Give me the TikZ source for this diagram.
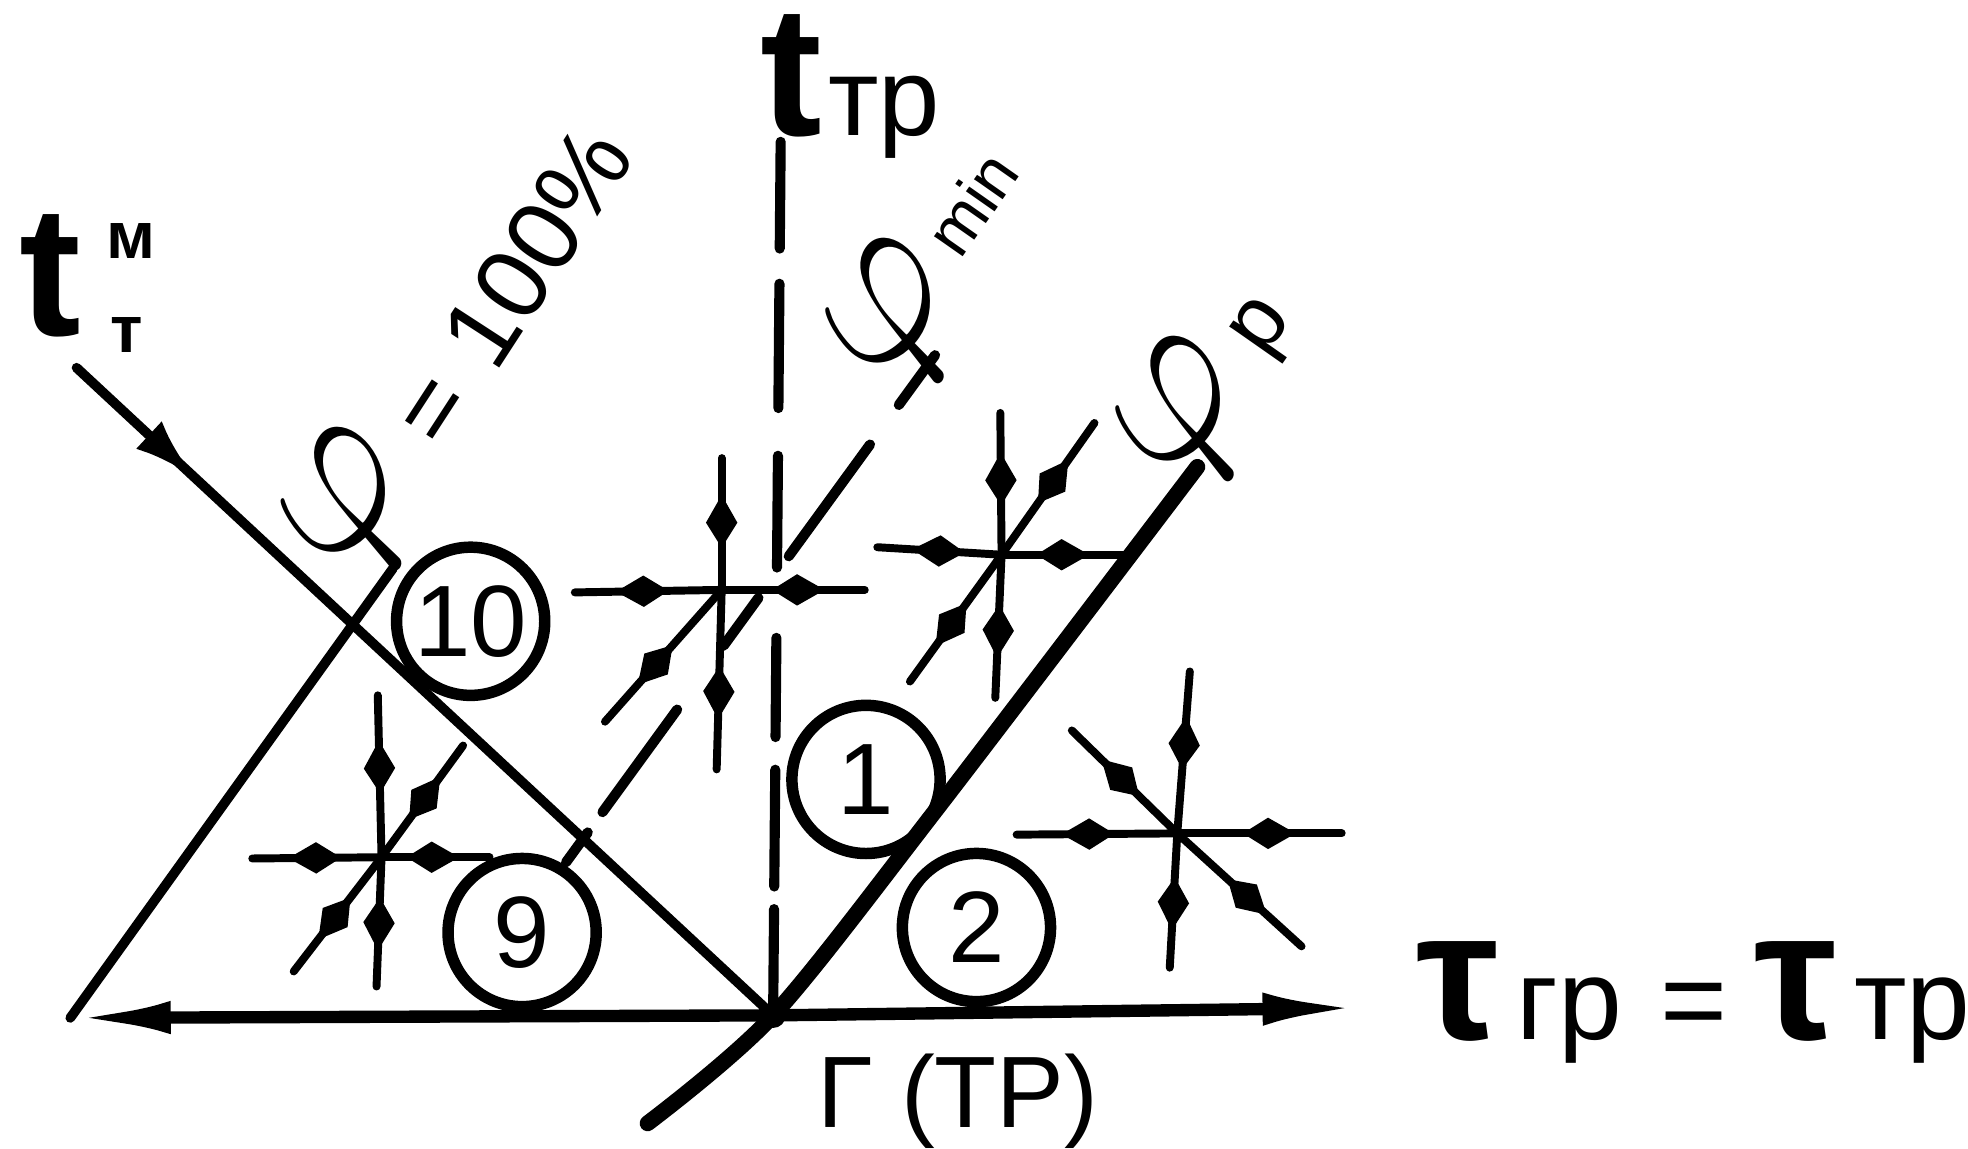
\RequirePackage{fix-cm}
\documentclass[tikz,border=0pt]{standalone}
\usepackage{fontspec}
\setmainfont{Liberation Sans}
\usetikzlibrary{arrows.meta,decorations.markings}
\newcommand{\tbig}{\fontsize{42}{44}\selectfont\bfseries}
\newcommand{\tsub}{\fontsize{25}{26}\selectfont}
\newcommand{\supf}{\fontsize{15}{15}\selectfont\bfseries}
\newcommand{\fphi}{{\fontsize{48}{48}\selectfont$\varphi$}}

\begin{document}
\begin{tikzpicture}[
  x=0.01cm, y=-0.01cm,
  lin/.style={line width=2.2pt,line cap=round},
  thickln/.style={line width=3.6pt,line cap=round},
  dsh/.style={line width=2.3pt,line cap=round},
  axarr/.style={line width=2.8pt,-{Latex[length=8mm,width=2.6mm]}},
  flowarr/.style={lin,postaction={decorate},decoration={markings,
    mark=at position 0.17 with {\arrow{Latex[length=5mm,width=3mm]}}}},
  ray/.style={line width=1.8pt,line cap=round,postaction={decorate},
    decoration={markings,mark=at position 0.72 with {\arrow{Kite[length=4.2mm,width=2.5mm,inset=2mm]}}}},
  num/.style={circle,draw,line width=2.6pt,minimum size=1.18cm,inner sep=0pt,
    font=\fontsize{23}{23}\selectfont},
  lbl/.style={inner sep=0pt}
]
\useasboundingbox (0,0) rectangle (1568,915);
\coordinate (gorig) at (616,809);
\coordinate (axl) at (56,811);
\coordinate (axr) at (1086,803);
\coordinate (tritop) at (313,453);
\coordinate (wetstart) at (61,293);
\coordinate (ttrtop) at (622,113);
\coordinate (pmintop) at (745,283);
\coordinate (pminend) at (451,687);
\coordinate (plow) at (516,895);
\coordinate (pmid) at (746,645);
\coordinate (ptop) at (954,372);

\node[num] (c10) at (375,495) {10};
\node[num] (c9) at (416,743) {9};
\node[num] (c1) at (690,621) {1};
\node[num] (c2) at (778,739) {2};

\node[lbl,anchor=base west] (ttr) at (605,108) {{\tbig t}\kern0.05cm{\tsub тр}};
\node[lbl,anchor=base west] (tm) at (15,267)
  {{\tbig t}\hspace{0.2cm}\rlap{\raisebox{0.61cm}{\supf м}}\raisebox{-0.14cm}{\kern0.03cm\supf т}};
\node[lbl,anchor=base west,font=\fontsize{26}{26}\selectfont] (tau) at (1128,828)
  {{\tbig τ}\kern0.14cm гр\kern0.3cm=\kern0.22cm{\tbig τ}\kern0.13cm тр};
\node[lbl,anchor=base west,font=\fontsize{23}{23}\selectfont] (gtr) at (651,898) {Г (ТР)};
\node[lbl,rotate=57,font=\fontsize{23}{23}\selectfont] (phiw) at (366,277)
  {\fphi\hspace{0.2cm}\raisebox{-0.16cm}{=\hspace{0.27cm}100\%}};
\node[lbl,rotate=55] (phimin) at (745,214)
  {\fphi\hspace{0.11cm}\raisebox{0.07cm}{\fontsize{15}{15}\selectfont min}};
\node[lbl,rotate=55] (phip) at (965,308)
  {\fphi\hspace{0.17cm}\raisebox{-0.02cm}{\fontsize{20}{20}\selectfont р}};

\draw[axarr] (gorig) -- (axl);
\draw[axarr] (gorig) -- (axr);
\draw[lin] (axl) -- (tritop);
\draw[flowarr] (wetstart) -- (gorig);
\draw[dsh,dash pattern=on 0.85cm off 0.28cm on 0.99cm off 0.38cm on 0.89cm off 0.56cm on 0.79cm off 0.26cm on 0.93cm off 0.18cm on 0.84cm off 1cm] (ttrtop) -- (gorig);
\draw[dsh,dash pattern=on 0.49cm off 0.39cm on 1.1cm off 0.41cm on 0.47cm off 0.63cm on 1.01cm off 0.2cm on 0.3cm off 1cm] (pmintop) -- (pminend);
\draw[thickln] plot[smooth] coordinates {(plow) (gorig) (pmid) (ptop)};
\fill (gorig) circle (10);

\coordinate (sa) at (575,470);
\coordinate (sa-l) at (458,472);
\coordinate (sa-r) at (689,470);
\coordinate (sa-u) at (575,365);
\coordinate (sa-d) at (571,613);
\coordinate (sa-dl) at (482,575);
\draw[ray] (sa) -- (sa-l);
\draw[ray] (sa) -- (sa-r);
\draw[ray] (sa) -- (sa-u);
\draw[ray] (sa) -- (sa-d);
\draw[ray] (sa) -- (sa-dl);

\coordinate (sb) at (798,442);
\coordinate (sb-l) at (699,436);
\coordinate (sb-r) at (895,442);
\coordinate (sb-u) at (797,329);
\coordinate (sb-d) at (793,556);
\coordinate (sb-ur) at (872,337);
\coordinate (sb-dl) at (725,543);
\draw[ray] (sb) -- (sb-l);
\draw[ray] (sb) -- (sb-r);
\draw[ray] (sb) -- (sb-u);
\draw[ray] (sb) -- (sb-d);
\draw[ray] (sb) -- (sb-ur);
\draw[ray] (sb) -- (sb-dl);

\coordinate (sc) at (938,664);
\coordinate (sc-l) at (810,665);
\coordinate (sc-r) at (1069,664);
\coordinate (sc-u) at (948,535);
\coordinate (sc-d) at (932,771);
\coordinate (sc-ul) at (854,582);
\coordinate (sc-dr) at (1037,754);
\draw[ray] (sc) -- (sc-l);
\draw[ray] (sc) -- (sc-r);
\draw[ray] (sc) -- (sc-u);
\draw[ray] (sc) -- (sc-d);
\draw[ray] (sc) -- (sc-ul);
\draw[ray] (sc) -- (sc-dr);

\coordinate (sd) at (304,683);
\coordinate (sd-l) at (201,684);
\coordinate (sd-r) at (390,683);
\coordinate (sd-u) at (301,554);
\coordinate (sd-d) at (300,786);
\coordinate (sd-ur) at (369,594);
\coordinate (sd-dl) at (234,774);
\draw[ray] (sd) -- (sd-l);
\draw[ray] (sd) -- (sd-r);
\draw[ray] (sd) -- (sd-u);
\draw[ray] (sd) -- (sd-d);
\draw[ray] (sd) -- (sd-ur);
\draw[ray] (sd) -- (sd-dl);
\end{tikzpicture}
\end{document}
